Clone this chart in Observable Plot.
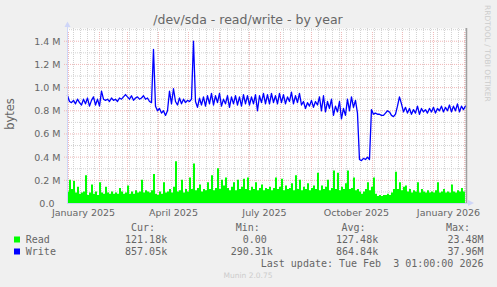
<!DOCTYPE html>
<html><head><meta charset="utf-8">
<script src="https://cdn.jsdelivr.net/npm/d3@7"></script>
<script src="https://cdn.jsdelivr.net/npm/@observablehq/plot@0.6"></script>
<style>
html,body{margin:0;padding:0;background:#f0f0f0;}
#wrap{position:relative;width:497px;height:287px;overflow:hidden;background:#f0f0f0;}
#wrap svg{position:absolute;left:0;top:0;}
</style></head><body>
<div id="wrap"></div>
<script>
// ---- data (values in M bytes, one sample every 2 days starting 2024-12-31) ----
const startDate = "2024-12-31";
const stepDays = 2;
const writeM = [
0.93,0.88,0.87,0.89,0.86,0.90,0.87,0.85,0.90,0.86,0.91,0.84,0.89,0.92,0.85,0.90,0.84,
0.97,0.90,0.89,
0.90,0.88,0.91,0.89,0.90,0.88,0.91,0.90,0.92,0.94,0.92,0.90,0.93,0.89,0.91,0.92,0.90,0.91,0.93,0.90,
0.91,0.88,0.87,1.33,0.84,0.80,0.82,0.78,0.80,
0.76,0.80,0.97,0.86,0.99,0.88,0.85,0.91,0.86,0.90,
0.87,0.89,0.88,0.90,1.40,0.88,0.83,0.91,0.85,0.92,
0.84,0.93,0.86,0.95,0.85,0.93,0.87,0.95,0.84,0.90,
0.86,0.93,0.83,0.92,0.86,0.93,0.85,0.92,0.84,0.94,
0.86,0.93,0.85,0.92,0.86,0.94,0.80,0.93,0.87,0.95,
0.86,
0.94,0.86,0.95,0.87,0.93,0.86,0.95,0.87,0.94,0.86,
0.92,0.88,0.96,0.86,0.93,0.87,0.95,0.85,0.88,0.82,
0.87,0.84,0.89,0.83,0.88,0.85,0.92,0.80,0.93,0.79,
0.88,0.82,0.90,0.76,0.84,0.79,0.88,0.73,0.82,0.76,
0.90,0.80,0.92,0.83,0.89,0.78,0.38,0.37,0.39,0.38,
0.40,0.38,0.81,0.77,0.78,0.77,0.77,0.76,0.76,0.78,
0.80,0.79,0.76,0.75,0.77,0.84,0.92,0.86,0.79,0.83,
0.78,0.82,0.77,0.81,0.78,0.84,0.77,0.82,0.79,0.81,
0.78,0.82,0.79,0.83,0.78,0.82,0.80,0.84,0.79,0.83,
0.80,0.85,0.79,0.84,0.80,0.86,0.79,0.84,0.81,0.84
];
const readM = [
0.10,0.20,0.12,0.19,0.09,0.14,0.08,0.09,0.10,0.24,
0.07,0.09,0.16,0.08,0.10,0.07,0.18,0.09,0.08,0.14,
0.09,0.08,0.10,0.08,0.09,0.08,0.13,0.10,0.08,0.09,
0.15,0.08,0.10,0.08,0.11,0.09,0.10,0.20,0.09,0.11,
0.10,0.09,0.11,0.25,0.08,0.07,0.10,0.08,0.18,0.09,
0.10,0.12,0.09,0.14,0.36,0.10,0.11,0.20,0.09,0.12,
0.10,0.22,0.12,0.34,0.11,0.13,0.16,0.10,0.12,0.11,
0.18,0.12,0.24,0.11,0.13,0.30,0.12,0.20,0.15,0.22,
0.13,0.11,0.14,0.18,0.11,0.20,0.12,0.14,0.21,0.12,
0.22,0.11,0.14,0.12,0.18,0.11,0.13,0.16,0.11,0.13,
0.12,0.14,0.11,0.13,0.22,0.12,0.14,0.21,0.11,0.15,
0.12,0.13,0.17,0.11,0.24,0.12,0.20,0.11,0.14,0.12,
0.17,0.11,0.13,0.15,0.12,0.26,0.11,0.15,0.12,0.14,
0.20,0.11,0.13,0.28,0.12,0.26,0.11,0.14,0.12,0.17,
0.28,0.12,0.13,0.22,0.11,0.12,0.10,0.08,0.10,0.12,
0.18,0.11,0.14,0.22,0.08,0.06,0.07,0.06,0.07,0.07,
0.08,0.07,0.09,0.12,0.27,0.12,0.18,0.11,0.14,0.15,
0.10,0.12,0.09,0.11,0.10,0.18,0.09,0.12,0.10,0.09,
0.11,0.09,0.10,0.09,0.11,0.18,0.09,0.10,0.12,0.09,
0.10,0.09,0.16,0.10,0.09,0.11,0.10,0.13,0.10,0.12
];
const yTickValues = [0, 0.2, 0.4, 0.6, 0.8, 1.0, 1.2, 1.4];
const yTickLabels = ["0.0\u00a0\u00a0", "0.2 M", "0.4 M", "0.6 M", "0.8 M", "1.0 M", "1.2 M", "1.4 M"];
const xLabelDates = ["2025-01-16", "2025-04-16", "2025-07-16", "2025-10-16", "2026-01-16"];
const xLabelText = ["January 2025", "April 2025", "July 2025", "October 2025", "January 2026"];
const legendNames = ["Read", "Write"];
const legendColors = ["#00ff00", "#0000ff"];
const legendCur = ["121.18k", "857.05k"];
const legendMin = ["0.00\u00a0", "290.31k"];
const legendAvg = ["127.48k", "864.84k"];
const legendMax = ["23.48M", "37.96M"];
const legendHeaders = ["Cur:", "Min:", "Avg:", "Max:"];
const titleText = "/dev/sda - read/write - by year";
const lastUpdate = "Last update: Tue Feb  3 01:00:00 2026";

// ---- build ----
const t0 = new Date(startDate + "T00:00:00Z");
const data = writeM.map((w, i) => ({
  date: d3.utcDay.offset(t0, i * stepDays),
  write: w * 1e6,
  read: readM[i] * 1e6
}));
const xDomain = [t0, new Date("2026-02-03T01:00:00Z")];
const months = d3.utcMonth.range(new Date("2025-01-01T00:00:00Z"), new Date("2026-02-02T00:00:00Z"));
const weeks = d3.utcMonday.range(xDomain[0], xDomain[1]);
const yMinor = d3.range(1, 16, 2).map(d => d * 0.1e6);
const yMajor = yTickValues.slice(1).map(d => d * 1e6);
const gridCol = "#d2d2d2", mgridCol = "#f0b8b8", axisCol = "#CFD6F8", fontCol = "#666666";

const chart = Plot.plot({
  width: 497, height: 220,
  marginLeft: 67, marginRight: 31, marginTop: 28, marginBottom: 17,
  style: {background: "transparent", fontFamily: "DejaVu Sans", overflow: "visible"},
  x: {type: "utc", domain: xDomain, axis: null},
  y: {domain: [0, 1.51e6], axis: null},
  marks: [
    Plot.frame({fill: "white", stroke: null}),
    Plot.ruleX(weeks, {stroke: gridCol, strokeDasharray: "1,1"}),
    Plot.ruleY(yMinor, {stroke: gridCol, strokeDasharray: "1,1"}),
    Plot.ruleX(months, {stroke: mgridCol, strokeDasharray: "1,1", y1: 0, y2: 1.51e6, insetBottom: -3}),
    Plot.ruleY(yMajor, {stroke: mgridCol, strokeDasharray: "1,1", insetLeft: -3}),
    Plot.areaY(data, {x: "date", y: "read", fill: "#00ff00", curve: "step-after"}),
    Plot.lineY(data, {x: "date", y: "write", stroke: "#0000ff", strokeWidth: 1.3}),
    Plot.ruleY([0], {stroke: axisCol, x1: xDomain[0], x2: new Date("2026-02-06T00:00:00Z")}),
    Plot.ruleX([xDomain[0]], {stroke: axisCol, y1: 0, y2: 1.54e6}),
    Plot.ruleX([xDomain[1]], {stroke: "#a0a0a0", strokeWidth: 1.5}),
    Plot.text(yTickValues, {y: d => d * 1e6, frameAnchor: "left", text: (d, i) => yTickLabels[i],
      textAnchor: "end", lineAnchor: "bottom", dx: -7, dy: 3.5, fill: fontCol, fontSize: 9.5}),
    Plot.text(xLabelDates, {x: d => new Date(d + "T00:00:00Z"), frameAnchor: "bottom", text: (d, i) => xLabelText[i],
      textAnchor: "middle", lineAnchor: "bottom", dy: 12, fill: fontCol, fontSize: 9.5})
  ]
});
const wrap = document.getElementById("wrap");
wrap.appendChild(chart);

// ---- overlay: title, labels, legend ----
const ns = "http://www.w3.org/2000/svg";
const ov = document.createElementNS(ns, "svg");
ov.setAttribute("width", 497); ov.setAttribute("height", 287);
wrap.appendChild(ov);
function txt(s, x, y, opts = {}) {
  const t = document.createElementNS(ns, "text");
  t.textContent = s;
  t.setAttribute("x", x); t.setAttribute("y", y);
  t.setAttribute("fill", opts.fill || fontCol);
  t.setAttribute("font-family", opts.font || "DejaVu Sans");
  t.setAttribute("font-size", opts.size || 10);
  t.setAttribute("text-anchor", opts.anchor || "start");
  t.setAttribute("style", "white-space:pre");
  if (opts.transform) t.setAttribute("transform", opts.transform);
  ov.appendChild(t);
  return t;
}
function poly(points, fill) {
  const p = document.createElementNS(ns, "polygon");
  p.setAttribute("points", points); p.setAttribute("fill", fill);
  ov.appendChild(p);
}
// axis arrows
poly("64.5,27 70.5,27 67.5,21.5", axisCol);
poly("468,200 468,206 474,203", axisCol);

txt(titleText, 248, 23.5, {anchor: "middle", size: 12.5});
txt("bytes", 0, 0, {anchor: "middle", size: 11.5, transform: "translate(13.5,114) rotate(-90)"});
txt("RRDTOOL / TOBI OETIKER", 0, 0, {size: 7.5, fill: "#cccccc", transform: "translate(485.3,5) rotate(90)"});

const mono = "DejaVu Sans Mono";
const hdrX = [131, 235.7, 341.4, 446];
legendHeaders.forEach((h, i) => txt(h, hdrX[i], 231, {font: mono, size: 10}));
const colEnd = [167.2, 272.8, 378.2, 483.5];
legendNames.forEach((n, r) => {
  const y = 243 + r * 12;
  const rect = document.createElementNS(ns, "rect");
  rect.setAttribute("x", 14); rect.setAttribute("y", y - 6.5);
  rect.setAttribute("width", 6); rect.setAttribute("height", 6);
  rect.setAttribute("fill", legendColors[r]);
  ov.appendChild(rect);
  txt(n, 25.8, y, {font: mono, size: 10});
  [legendCur, legendMin, legendAvg, legendMax].forEach((col, c) =>
    txt(col[r], colEnd[c], y, {font: mono, size: 10, anchor: "end"}));
});
txt(lastUpdate, 483.5, 267, {font: mono, size: 10, anchor: "end"});
txt("Munin 2.0.75", 248, 278, {size: 7.5, fill: "#cccccc", anchor: "middle"});
</script>
</body></html>
